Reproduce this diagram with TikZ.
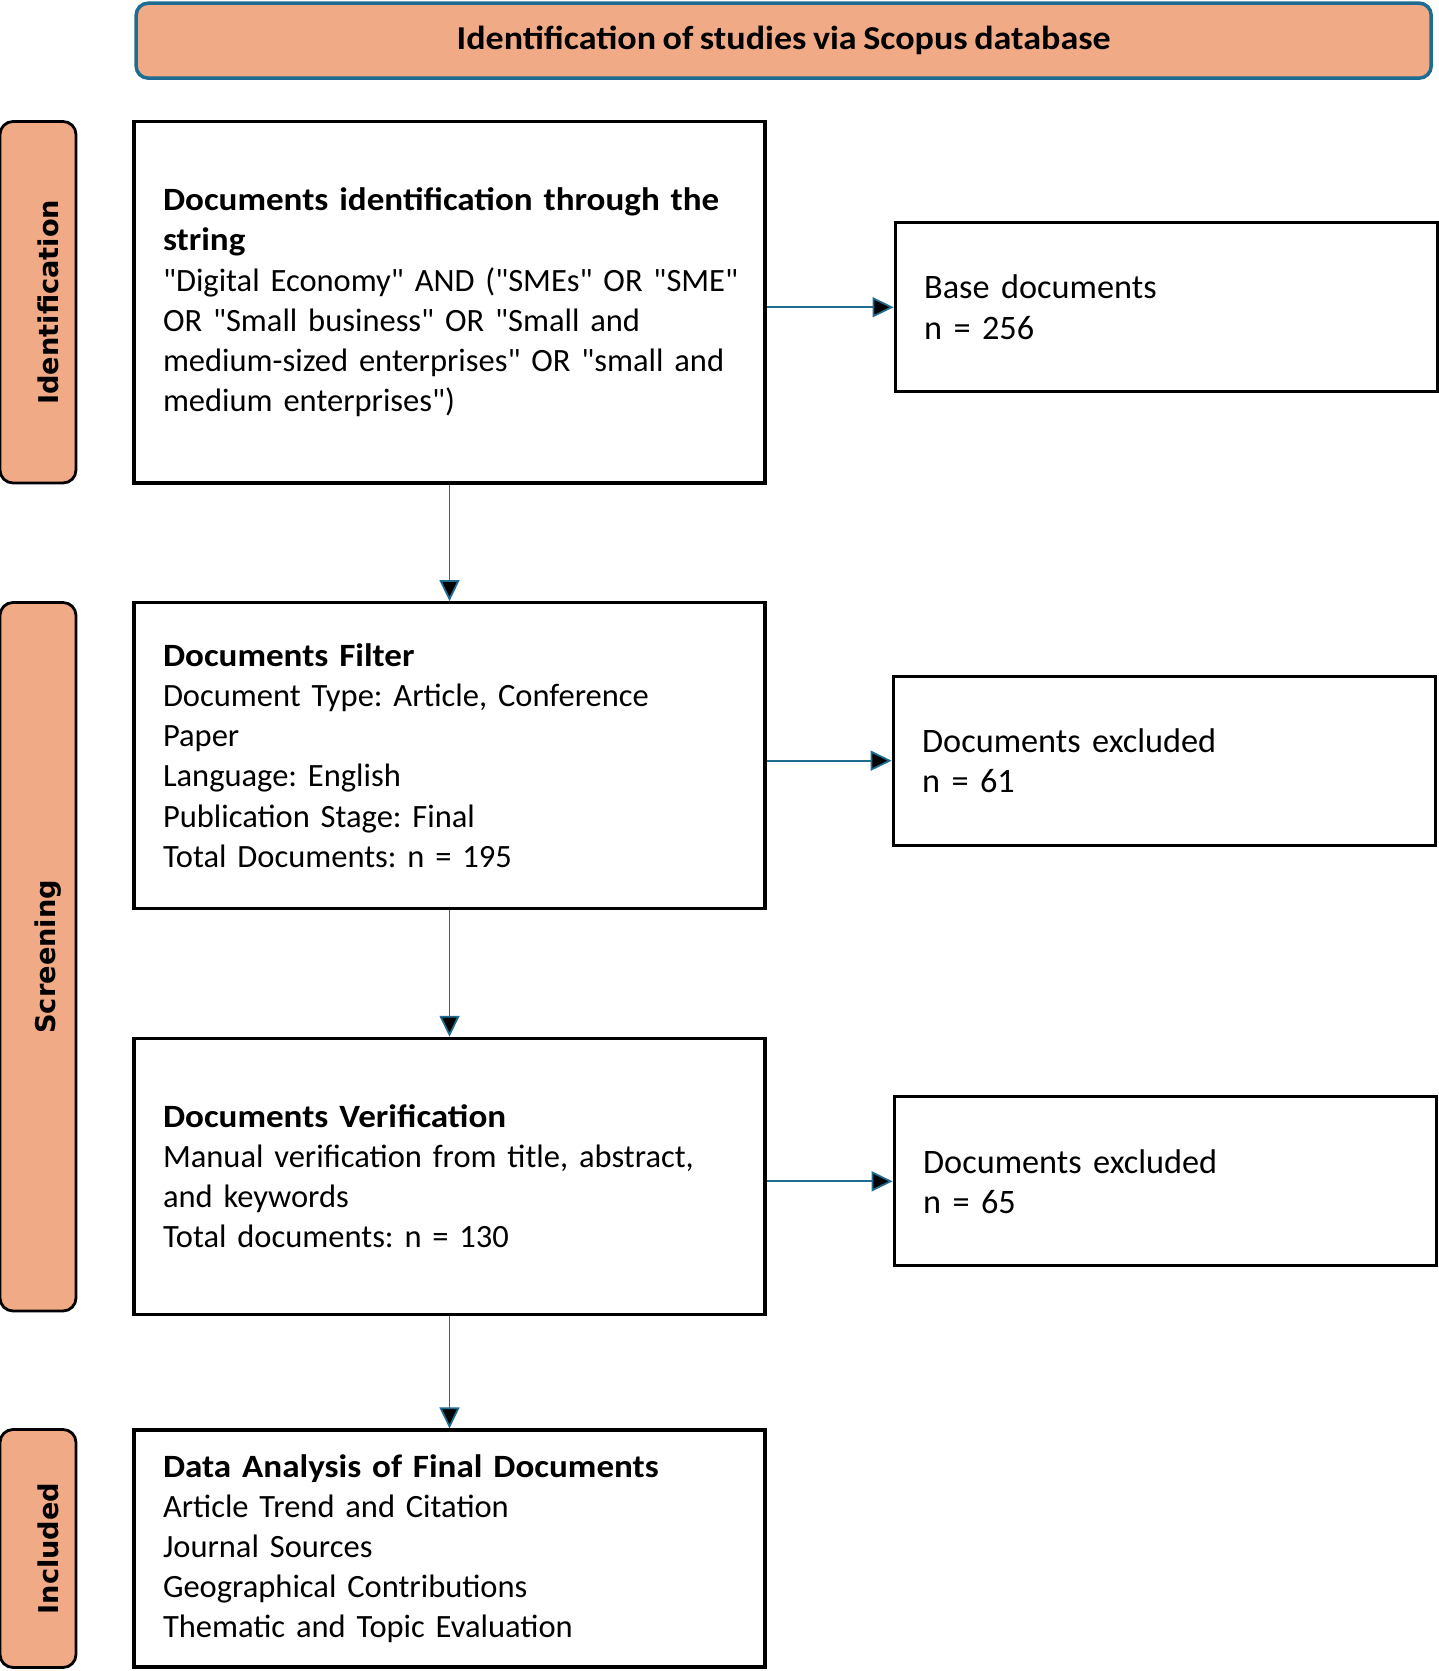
\documentclass[tikz,border=0pt]{standalone}
\usepackage{fontspec}
\setmainfont{Carlito}[Ligatures=TeXOff,WordSpace=0.8,BoldFeatures={FakeStretch=1.08}]
\newfontfamily\tabfont{DejaVu Sans}
\usepackage{tikz}
\usetikzlibrary{positioning,arrows.meta}
\definecolor{tabfill}{RGB}{241,170,134}
\definecolor{flowblue}{RGB}{30,108,145}
\tikzset{main node/.style={rectangle,draw,line width=1.8pt,minimum width=12.62cm,text width=11.46cm,inner xsep=0.58cm,align=left,font=\fontsize{18.5}{22.8}\selectfont,execute at begin node={\rightskip=0pt plus 1fil minus 1cm}},
         side node/.style={rectangle,draw,line width=1.8pt,minimum width=10.84cm,minimum height=3.38cm,text width=9.68cm,inner xsep=0.58cm,align=left,font=\fontsize{19.5}{22.8}\selectfont},
         tab node/.style={rectangle,rounded corners=0.26cm,draw,line width=1.6pt,fill=tabfill,minimum width=1.52cm,inner sep=0pt,font=\tabfont\bfseries\fontsize{15.5}{18}\selectfont,execute at begin node={\hspace*{0.4cm}}},
         head node/.style={rectangle,rounded corners=0.24cm,draw=flowblue,line width=2pt,fill=tabfill,minimum width=25.9cm,minimum height=1.5cm,font=\bfseries\fontsize{19}{24}\selectfont},
         flow/.style={draw=flowblue,line width=1pt},
         flow tip/.style={-{Triangle[length=0.42cm,width=0.4cm]}},
            }

\begin{document}
\frenchspacing
\begin{tikzpicture}
    \useasboundingbox (0,0) rectangle (28.78,-33.42);

    \node[main node,minimum height=7.23cm] (1) at (8.99,-6.045) {\textbf{Documents identification through the\\string}\\"Digital Economy" AND ("SMEs" OR "SME"\\OR "Small business" OR "Small and\\medium-sized enterprises" OR "small and\\medium enterprises")};
    \node[main node,minimum height=6.12cm] (2) [below = 2.33cm of 1] {\textbf{Documents Filter}\\Document Type: Article, Conference\\Paper\\Language: English\\Publication Stage: Final\\Total Documents: n = 195};
    \node[main node,minimum height=5.52cm] (3) [below = 2.53cm of 2] {\textbf{Documents Verification}\\Manual verification from title, abstract,\\and keywords\\Total documents: n = 130};
    \node[main node,minimum height=4.74cm] (4) [below = 2.25cm of 3] {\textbf{Data Analysis of Final Documents}\\Article Trend and Citation\\Journal Sources\\Geographical Contributions\\Thematic and Topic Evaluation};

    \node[side node] (base) [right = 2.54cm of 1,yshift=-0.1cm] {Base documents\\n = 256};
    \node[side node] (ex1) [right = 2.5cm of 2,yshift=-0.1cm] {Documents excluded\\n = 61};
    \node[side node] (ex2) [right = 2.52cm of 3,yshift=-0.1cm] {Documents excluded\\n = 65};

    \node[head node] (head) [above right = 0.8cm and 0.04cm of 1.north west] {Identification of studies via Scopus database};

    \node[tab node,minimum height=7.23cm] (idt) [left = 1.1cm of 1] {\rotatebox{90}{Identification}};
    \node[tab node,minimum height=14.17cm] (scr) [below left = 0cm and 1.1cm of 2.north west] {\rotatebox{90}{Screening}};
    \node[tab node,minimum height=4.76cm] (inc) [left = 1.1cm of 4] {\rotatebox{90}{Included}};

    \path[flow]
    (1) edge[flow tip] node {} (2)
    (2) edge[flow tip] node {} (3)
    (3) edge[flow tip] node {} (4);

    \path[flow]
    (1.east |- base) edge[flow tip] node {} (base)
    (2.east |- ex1) edge[flow tip] node {} (ex1)
    (3.east |- ex2) edge[flow tip] node {} (ex2);
\end{tikzpicture}
\end{document}
